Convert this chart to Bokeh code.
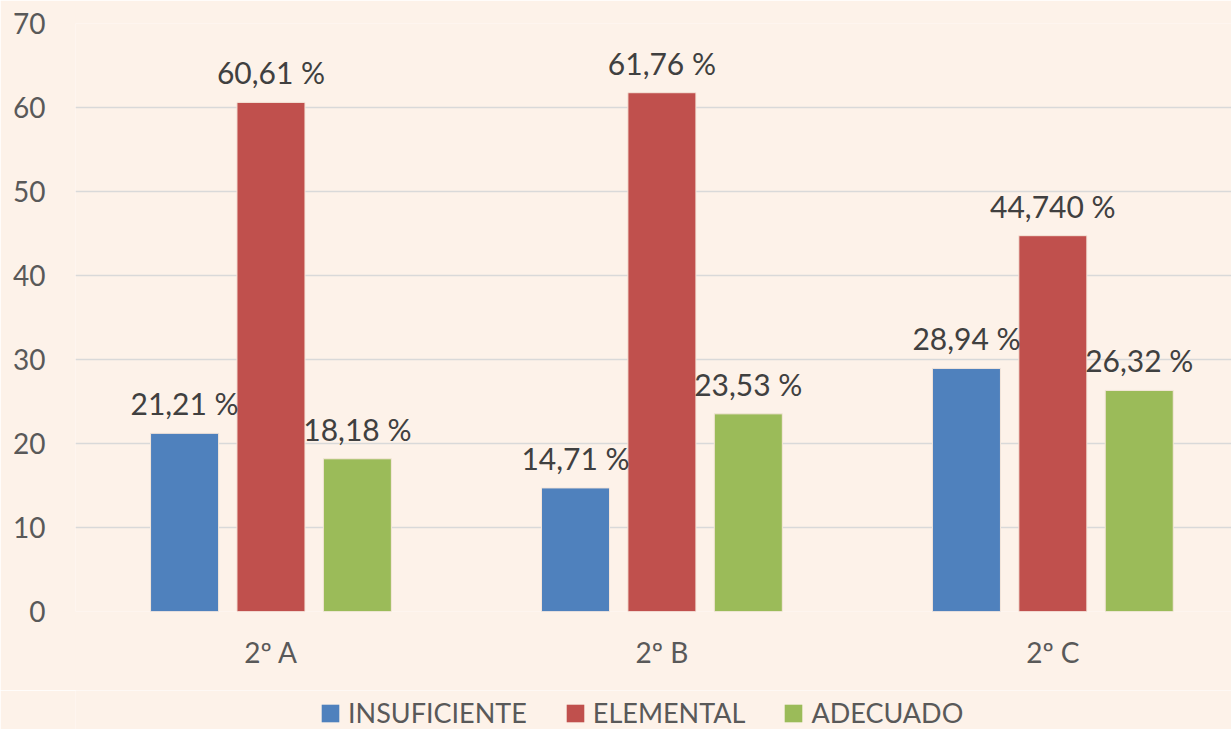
from bokeh.plotting import figure
from bokeh.models import Range1d, FixedTicker, ColumnDataSource, Legend, LegendItem, LabelSet
from bokeh.layouts import column
from bokeh.core.properties import value
from bokeh.embed import file_html
from bokeh.resources import INLINE

categories = ["2º A", "2º B", "2º C"]
series_names = ["INSUFICIENTE", "ELEMENTAL", "ADECUADO"]
insuficiente = [21.21, 14.71, 28.94]
elemental = [60.61, 61.76, 44.74]
adecuado = [18.18, 23.53, 26.32]
labels_insuficiente = ["21,21 %", "14,71 %", "28,94 %"]
labels_elemental = ["60,61 %", "61,76 %", "44,740 %"]
labels_adecuado = ["18,18 %", "23,53 %", "26,32 %"]
y_ticks = [0, 10, 20, 30, 40, 50, 60, 70]

colors = ["#4F81BD", "#C0504D", "#9BBB59"]
BG = "#FDF2E9"
FONT = "Lato"

p = figure(width=1231, height=690, output_backend="svg", toolbar_location=None,
           x_range=Range1d(0, 2.957), y_range=Range1d(0, 70),
           min_border_left=75, min_border_right=0, min_border_top=23, min_border_bottom=79)
p.background_fill_color = BG
p.border_fill_color = BG
p.outline_line_color = None

p.xgrid.grid_line_color = None
p.ygrid.grid_line_color = "#D9D9D9"
p.ygrid.grid_line_width = 1.5
p.ygrid.ticker = FixedTicker(ticks=y_ticks)

p.yaxis.ticker = FixedTicker(ticks=y_ticks)
p.yaxis.axis_line_color = None
p.yaxis.major_tick_line_color = None
p.yaxis.major_tick_out = 0
p.yaxis.major_tick_in = 0
p.yaxis.minor_tick_line_color = None
p.yaxis.major_label_standoff = 30
p.yaxis.major_label_text_font = FONT
p.yaxis.major_label_text_font_size = "28px"
p.yaxis.major_label_text_color = "#595959"

centers = [0.5, 1.5, 2.5]
p.xaxis.ticker = FixedTicker(ticks=centers)
p.xaxis.major_label_overrides = {c: cat for c, cat in zip(centers, categories)}
p.xaxis.axis_line_color = None
p.xaxis.major_tick_line_color = None
p.xaxis.major_tick_out = 0
p.xaxis.major_tick_in = 0
p.xaxis.minor_tick_line_color = None
p.xaxis.major_label_standoff = 23
p.xaxis.major_label_text_font = FONT
p.xaxis.major_label_text_font_size = "28px"
p.xaxis.major_label_text_color = "#595959"

offsets = [-0.221, 0.0, 0.221]
bar_w = 0.174
series = [insuficiente, elemental, adecuado]
labels = [labels_insuficiente, labels_elemental, labels_adecuado]
for vals, labs, off, col in zip(series, labels, offsets, colors):
    src = ColumnDataSource(dict(x=[c + off for c in centers], top=vals, lab=labs))
    p.vbar(x="x", top="top", bottom=0, width=bar_w, source=src,
           fill_color=col, line_color="#F5E6DA", line_width=1)
    ls = LabelSet(x="x", y="top", text="lab", source=src, text_align="center",
                  text_baseline="middle", y_offset=30, text_font=value(FONT),
                  text_font_size="30px", text_color="#404040")
    p.add_layout(ls)

# legend strip
lg = figure(width=1231, height=39, output_backend="svg", toolbar_location=None,
            x_range=Range1d(10, 11), y_range=Range1d(10, 11),
            x_axis_location=None, y_axis_location=None,
            min_border_left=0, min_border_right=0, min_border_top=0, min_border_bottom=0)
lg.background_fill_color = BG
lg.border_fill_color = BG
lg.outline_line_color = None
lg.grid.grid_line_color = None
items = []
for name, col in zip(series_names, colors):
    r = lg.vbar(x=[0], top=[0], width=1, fill_color=col, line_color=None)
    items.append(LegendItem(label=name, renderers=[r]))
legend = Legend(items=items, orientation="horizontal", location=(244, 0),
                background_fill_alpha=0, border_line_color=None,
                glyph_width=22, glyph_height=22, label_standoff=7, spacing=37,
                padding=0, margin=0,
                label_text_font=FONT, label_text_font_size="27px", label_text_color="#595959")
lg.add_layout(legend, "center")

layout = column(p, lg, spacing=0)
open("out.html", "w").write(file_html(layout, INLINE))
